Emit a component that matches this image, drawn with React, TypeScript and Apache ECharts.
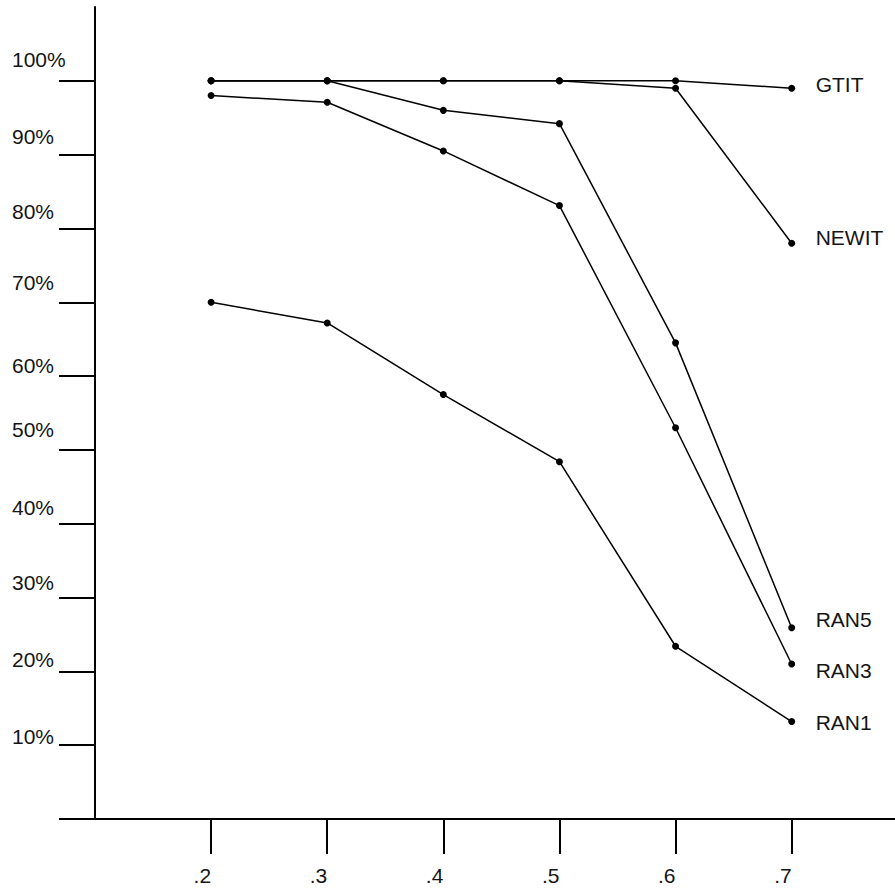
import React, { useEffect, useRef } from "react";
import * as echarts from "echarts";

// Ratio values (x) and success rates in percent (y) for each method
const ratios = [0.2, 0.3, 0.4, 0.5, 0.6, 0.7];
const gtit = [100, 100, 100, 100, 100, 99];
const newit = [100, 100, 100, 100, 99, 78];
const ran5 = [100, 100, 96, 94.2, 64.5, 25.9];
const ran3 = [98, 97.1, 90.5, 83.1, 53, 21];
const ran1 = [70, 67.2, 57.5, 48.4, 23.4, 13.2];

const seriesNames = ["GTIT", "NEWIT", "RAN5", "RAN3", "RAN1"];
const seriesValues = [gtit, newit, ran5, ran3, ran1];

const yTickValues = [0, 10, 20, 30, 40, 50, 60, 70, 80, 90, 100];
const yLabelValues = [10, 20, 30, 40, 50, 60, 70, 80, 90, 100];
const xTickValues = [0.2, 0.3, 0.4, 0.5, 0.6, 0.7];

const FONT = "'Liberation Sans', Arial, Helvetica, sans-serif";
const INK = "#000";
const TEXT = "#151515";

// how far each percent label sits above its tick
const yLabelLift: Record<number, number> = {
  10: 9, 20: 12, 30: 15, 40: 16, 50: 20, 60: 11, 70: 20, 80: 16.5, 90: 18, 100: 21,
};

// vertical nudge of each end label relative to its last point
const endLabelShift: Record<string, number> = {
  GTIT: -3.5, NEWIT: -6, RAN5: -8, RAN3: 6.5, RAN1: 0.5,
};

export default function App() {
  const ref = useRef<HTMLDivElement>(null);

  useEffect(() => {
    if (!ref.current) return;
    const chart = echarts.init(ref.current, undefined, { renderer: "svg" });

    const rich: Record<string, any> = {};
    yLabelValues.forEach((v) => {
      rich["l" + v] = {
        fontSize: 21,
        fontFamily: FONT,
        color: TEXT,
        padding: [0, 0, 2 * yLabelLift[v], 0],
      };
    });

    chart.setOption({
      animation: false,
      backgroundColor: "#fff",
      grid: { left: 95, right: 0, top: 7, bottom: 69, containLabel: false },
      xAxis: {
        type: "value",
        min: 0.1,
        max: 0.789,
        interval: 0.1,
        splitLine: { show: false },
        axisLine: { show: true, onZero: false, lineStyle: { color: INK, width: 2 } },
        axisTick: {
          show: true,
          customValues: xTickValues,
          length: 35,
          lineStyle: { color: INK, width: 2 },
        },
        axisLabel: {
          customValues: xTickValues,
          formatter: (v: number) => "." + Math.round(v * 10),
          align: "right",
          margin: 46,
          fontSize: 21,
          fontFamily: FONT,
          color: TEXT,
        },
      },
      yAxis: {
        type: "value",
        min: 0,
        max: 110,
        interval: 10,
        splitLine: { show: false },
        axisLine: { show: true, lineStyle: { color: INK, width: 2 } },
        axisTick: {
          show: true,
          customValues: yTickValues,
          length: 36,
          lineStyle: { color: INK, width: 2 },
        },
        axisLabel: {
          customValues: yLabelValues,
          formatter: (v: number) => `{l${v}|${v}%}`,
          rich,
          align: "left",
          verticalAlign: "middle",
          margin: 83,
          fontSize: 21,
          fontFamily: FONT,
          color: TEXT,
        },
      },
      series: seriesNames.map((name, i) => ({
        name,
        type: "line",
        data: ratios.map((x, j) => [x, seriesValues[i][j]]),
        symbol: "circle",
        symbolSize: 7,
        showSymbol: true,
        clip: false,
        itemStyle: { color: INK },
        lineStyle: { color: INK, width: 1.5 },
        emphasis: { disabled: true },
        endLabel: {
          show: true,
          formatter: "{a}",
          distance: 24,
          offset: [0, endLabelShift[name]],
          fontSize: 21,
          fontFamily: FONT,
          color: TEXT,
        },
      })),
    });

    return () => chart.dispose();
  }, []);

  return (
    <div
      ref={ref}
      style={{ position: "absolute", left: 0, top: 0, width: 895, height: 888 }}
    />
  );
}
